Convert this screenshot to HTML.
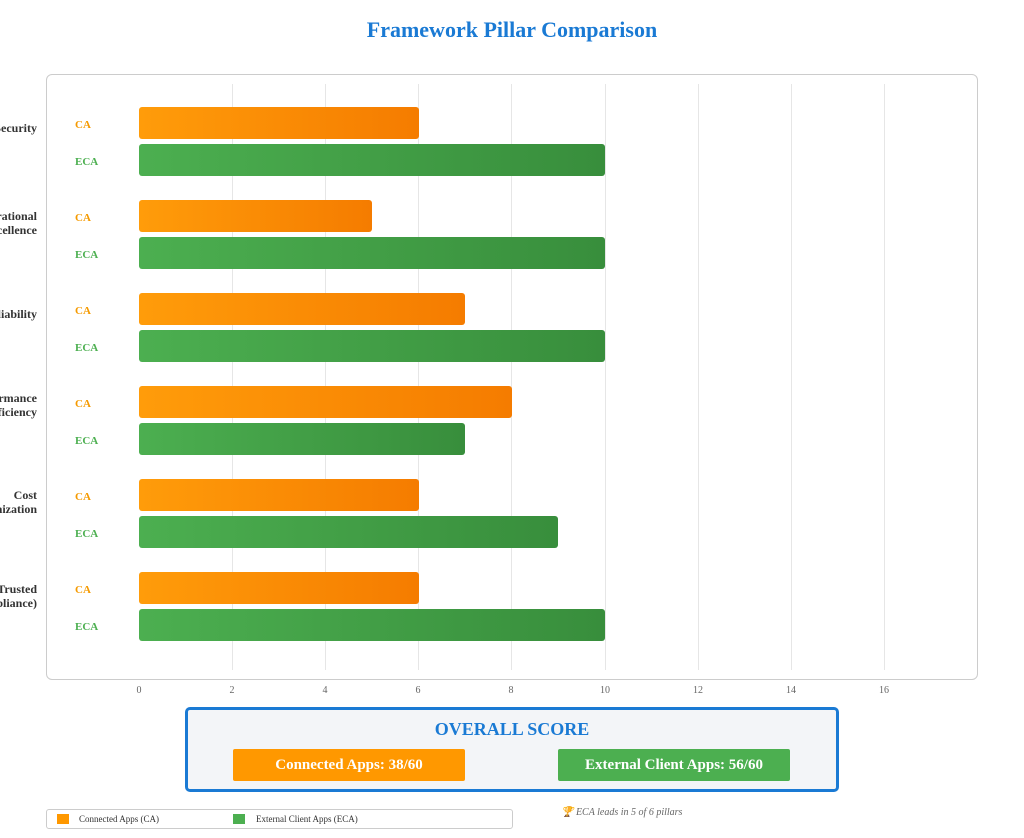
<!DOCTYPE html>
<html><head><meta charset="utf-8"><style>
body{margin:0;width:1024px;height:838px;background:#fff;position:relative;overflow:hidden;font-family:"Liberation Serif",serif}
.a{position:absolute}
.t{left:0;width:1024px;top:17px;text-align:center;color:#1a7ad4;font-size:22px;font-weight:bold}
.box{left:46px;top:74px;width:930px;height:604px;border:1px solid #ccc;border-radius:6px}
.g{top:84px;height:586px;width:1px;background:#e6e6e6}
.lab{right:987px;text-align:right;font-size:12px;font-weight:bold;color:#333;line-height:14px;white-space:nowrap}
.s{font-size:11px;font-weight:bold;left:75px}
.ca{color:#f59a00}.eca{color:#4caf50}
.bar{left:139px;height:32px;border-radius:3px}
.bo{background:linear-gradient(90deg,#ff9c0a,#f57c00)}
.bg{background:linear-gradient(90deg,#4caf50,#388e3c)}
.tick{top:685px;font-size:10px;color:#666;width:20px;text-align:center}
</style></head><body>
<div class="a t">Framework Pillar Comparison</div>
<div class="a box"></div>
<div class="a g" style="left:232px"></div><div class="a g" style="left:325px"></div><div class="a g" style="left:418px"></div><div class="a g" style="left:511px"></div><div class="a g" style="left:605px"></div><div class="a g" style="left:698px"></div><div class="a g" style="left:791px"></div><div class="a g" style="left:884px"></div>

<div class="a lab" style="top:121px">Security</div>
<div class="a lab" style="top:209px">Operational<br>Excellence</div>
<div class="a lab" style="top:307px">Reliability</div>
<div class="a lab" style="top:391px">Performance<br>Efficiency</div>
<div class="a lab" style="top:488px">Cost<br>Optimization</div>
<div class="a lab" style="top:582px">Trusted<br>(Compliance)</div>

<div class="a s ca" style="top:119px">CA</div><div class="a s eca" style="top:156px">ECA</div>
<div class="a s ca" style="top:212px">CA</div><div class="a s eca" style="top:249px">ECA</div>
<div class="a s ca" style="top:305px">CA</div><div class="a s eca" style="top:342px">ECA</div>
<div class="a s ca" style="top:398px">CA</div><div class="a s eca" style="top:435px">ECA</div>
<div class="a s ca" style="top:491px">CA</div><div class="a s eca" style="top:528px">ECA</div>
<div class="a s ca" style="top:584px">CA</div><div class="a s eca" style="top:621px">ECA</div>

<div class="a bar bo" style="top:107px;width:280px"></div><div class="a bar bg" style="top:144px;width:466px"></div>
<div class="a bar bo" style="top:200px;width:233px"></div><div class="a bar bg" style="top:237px;width:466px"></div>
<div class="a bar bo" style="top:293px;width:326px"></div><div class="a bar bg" style="top:330px;width:466px"></div>
<div class="a bar bo" style="top:386px;width:373px"></div><div class="a bar bg" style="top:423px;width:326px"></div>
<div class="a bar bo" style="top:479px;width:280px"></div><div class="a bar bg" style="top:516px;width:419px"></div>
<div class="a bar bo" style="top:572px;width:280px"></div><div class="a bar bg" style="top:609px;width:466px"></div>

<div class="a tick" style="left:129px">0</div><div class="a tick" style="left:222px">2</div><div class="a tick" style="left:315px">4</div><div class="a tick" style="left:408px">6</div><div class="a tick" style="left:501px">8</div><div class="a tick" style="left:595px">10</div><div class="a tick" style="left:688px">12</div><div class="a tick" style="left:781px">14</div><div class="a tick" style="left:874px">16</div>

<div class="a" style="left:185px;top:707px;width:648px;height:79px;border:3px solid #1a7ad4;border-radius:5px;background:#f3f5f8"></div>
<div class="a" style="left:185px;top:719px;width:654px;text-align:center;color:#1a7ad4;font-size:18px;font-weight:bold">OVERALL SCORE</div>
<div class="a" style="left:233px;top:749px;width:232px;height:32px;background:#ff9800;border-radius:2px;color:#fff;font-weight:bold;font-size:15px;text-align:center;line-height:32px">Connected Apps: 38/60</div>
<div class="a" style="left:558px;top:749px;width:232px;height:32px;background:#4caf50;border-radius:2px;color:#fff;font-weight:bold;font-size:15px;text-align:center;line-height:32px">External Client Apps: 56/60</div>

<div class="a" style="left:46px;top:809px;width:465px;height:18px;border:1px solid #ccc;border-radius:3px"></div>
<div class="a" style="left:57px;top:814px;width:12px;height:10px;background:#ff9800"></div>
<div class="a" style="left:79px;top:814px;font-size:9px;color:#333">Connected Apps (CA)</div>
<div class="a" style="left:233px;top:814px;width:12px;height:10px;background:#4caf50"></div>
<div class="a" style="left:256px;top:814px;font-size:9px;color:#333">External Client Apps (ECA)</div>
<div class="a" style="left:561px;top:807px;font-size:10px;color:#666;font-style:italic">🏆 ECA leads in 5 of 6 pillars</div>
</body></html>
